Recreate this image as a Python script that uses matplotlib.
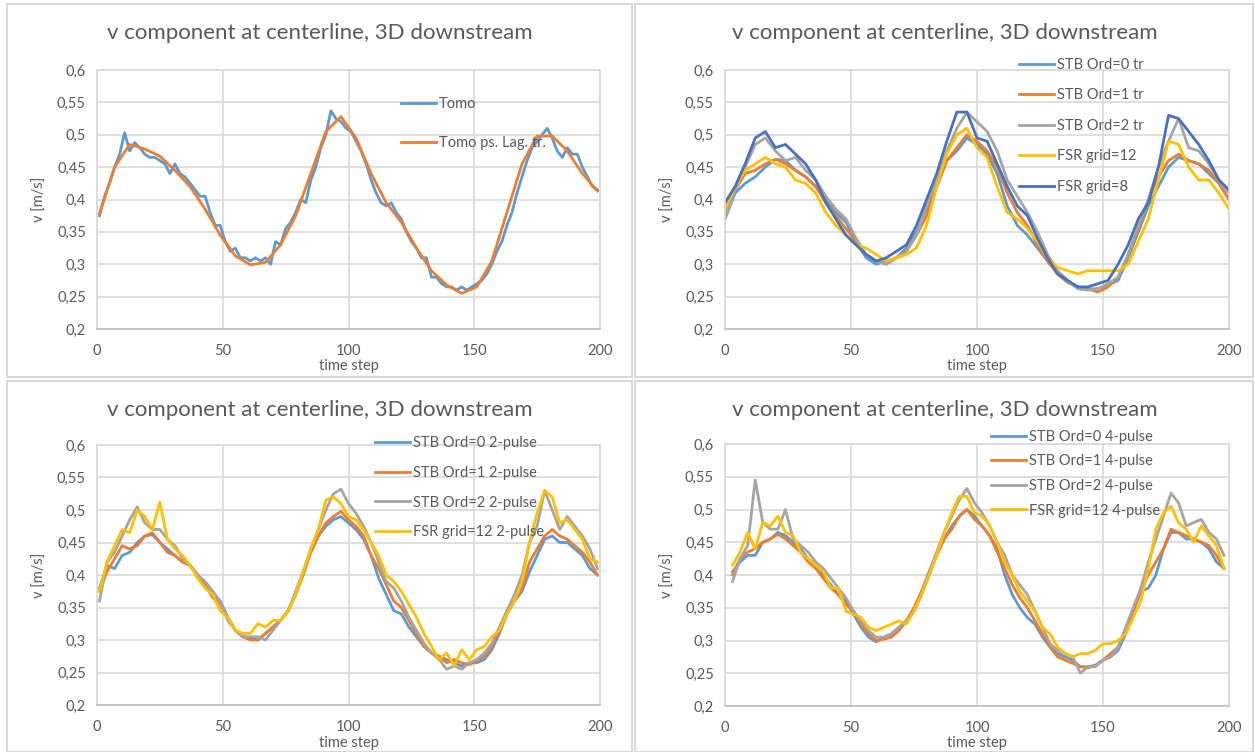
import numpy as np
import matplotlib
matplotlib.use("Agg")
import matplotlib.pyplot as plt
from matplotlib.patches import Rectangle
from matplotlib.ticker import FuncFormatter, MultipleLocator

plt.rcParams['font.family'] = ['Lato', 'DejaVu Sans']

TITLE = "v component at centerline, 3D downstream"

# ---- panel 1 ----
x_tomo = np.arange(1, 200, 2)
tomo = [0.375, 0.405, 0.425, 0.45, 0.47, 0.503, 0.475, 0.488, 0.48, 0.47,
        0.465, 0.465, 0.46, 0.455, 0.44, 0.455, 0.44, 0.435, 0.425, 0.415,
        0.405, 0.405, 0.38, 0.36, 0.36, 0.335, 0.32, 0.325, 0.31, 0.31,
        0.305, 0.31, 0.305, 0.31, 0.30, 0.335, 0.33, 0.355, 0.365, 0.38,
        0.40, 0.395, 0.43, 0.45, 0.48, 0.50, 0.537, 0.525, 0.52, 0.51,
        0.505, 0.49, 0.475, 0.455, 0.43, 0.41, 0.395, 0.39, 0.395, 0.38,
        0.37, 0.35, 0.335, 0.325, 0.31, 0.31, 0.28, 0.28, 0.27, 0.265,
        0.265, 0.26, 0.265, 0.26, 0.265, 0.27, 0.275, 0.285, 0.30, 0.32,
        0.335, 0.36, 0.38, 0.41, 0.435, 0.46, 0.48, 0.49, 0.50, 0.51,
        0.495, 0.475, 0.465, 0.48, 0.47, 0.47, 0.45, 0.435, 0.42, 0.415]
x_lag = np.arange(1, 200, 6)
tomo_lag = [0.378, 0.45, 0.485, 0.478, 0.467, 0.445, 0.42, 0.385, 0.345, 0.313,
            0.299, 0.303, 0.33, 0.375, 0.44, 0.505, 0.528, 0.495, 0.44, 0.395,
            0.365, 0.325, 0.29, 0.268, 0.255, 0.265, 0.305, 0.38, 0.455, 0.498,
            0.498, 0.475, 0.44, 0.413]

# ---- panel 2 ----
x_p2 = np.arange(0, 201, 4)
stb0_tr = [0.37, 0.41, 0.425, 0.435, 0.45, 0.462, 0.46, 0.445, 0.435, 0.42,
           0.40, 0.38, 0.365, 0.335, 0.31, 0.30, 0.305, 0.31, 0.325, 0.35,
           0.385, 0.42, 0.46, 0.475, 0.495, 0.485, 0.47, 0.44, 0.39, 0.36,
           0.345, 0.325, 0.305, 0.285, 0.272, 0.265, 0.262, 0.262, 0.268, 0.275,
           0.31, 0.35, 0.39, 0.42, 0.45, 0.465, 0.46, 0.455, 0.44, 0.425, 0.40]
stb1_tr = [0.375, 0.415, 0.44, 0.445, 0.455, 0.462, 0.455, 0.445, 0.435, 0.42,
           0.395, 0.375, 0.355, 0.335, 0.315, 0.305, 0.30, 0.31, 0.32, 0.345,
           0.375, 0.42, 0.46, 0.48, 0.50, 0.49, 0.475, 0.45, 0.41, 0.38,
           0.36, 0.33, 0.305, 0.285, 0.272, 0.265, 0.262, 0.257, 0.265, 0.28,
           0.315, 0.355, 0.40, 0.435, 0.46, 0.47, 0.46, 0.455, 0.445, 0.425, 0.40]
stb2_tr = [0.37, 0.415, 0.45, 0.485, 0.495, 0.475, 0.46, 0.465, 0.445, 0.43,
           0.405, 0.385, 0.37, 0.34, 0.315, 0.305, 0.30, 0.31, 0.32, 0.345,
           0.39, 0.43, 0.475, 0.51, 0.535, 0.52, 0.505, 0.475, 0.43, 0.405,
           0.38, 0.35, 0.315, 0.29, 0.275, 0.262, 0.26, 0.262, 0.27, 0.28,
           0.315, 0.36, 0.40, 0.45, 0.49, 0.525, 0.48, 0.475, 0.455, 0.43, 0.41]
fsr12_tr = [0.385, 0.42, 0.445, 0.455, 0.465, 0.455, 0.45, 0.43, 0.425, 0.41,
            0.38, 0.36, 0.345, 0.33, 0.325, 0.315, 0.305, 0.31, 0.315, 0.325,
            0.36, 0.42, 0.47, 0.50, 0.51, 0.48, 0.465, 0.42, 0.38, 0.37,
            0.355, 0.335, 0.31, 0.295, 0.29, 0.285, 0.29, 0.29, 0.29, 0.29,
            0.30, 0.335, 0.37, 0.43, 0.49, 0.485, 0.45, 0.43, 0.43, 0.41, 0.385]
fsr8_tr = [0.395, 0.42, 0.455, 0.495, 0.505, 0.48, 0.485, 0.47, 0.455, 0.43,
           0.395, 0.37, 0.345, 0.33, 0.315, 0.305, 0.31, 0.32, 0.33, 0.36,
           0.40, 0.44, 0.49, 0.535, 0.535, 0.495, 0.49, 0.455, 0.42, 0.39,
           0.375, 0.34, 0.31, 0.285, 0.275, 0.265, 0.265, 0.27, 0.275, 0.30,
           0.33, 0.37, 0.395, 0.45, 0.53, 0.525, 0.505, 0.485, 0.46, 0.43, 0.415]

# ---- panel 3 ----
x_p3 = np.arange(1, 200, 3)
stb0_2p = [0.38, 0.415, 0.41, 0.43, 0.435, 0.45, 0.46, 0.462, 0.45, 0.44,
           0.43, 0.42, 0.415, 0.40, 0.385, 0.37, 0.36, 0.335, 0.315, 0.305,
           0.303, 0.30, 0.31, 0.32, 0.33, 0.345, 0.37, 0.405, 0.435, 0.46,
           0.475, 0.485, 0.49, 0.48, 0.47, 0.455, 0.43, 0.395, 0.37, 0.345,
           0.34, 0.32, 0.305, 0.29, 0.28, 0.275, 0.27, 0.265, 0.26, 0.265,
           0.265, 0.27, 0.285, 0.31, 0.34, 0.36, 0.375, 0.405, 0.43, 0.455,
           0.46, 0.45, 0.45, 0.44, 0.43, 0.41, 0.40]
stb1_2p = [0.375, 0.405, 0.425, 0.445, 0.44, 0.445, 0.46, 0.465, 0.45, 0.435,
           0.43, 0.42, 0.415, 0.40, 0.385, 0.365, 0.355, 0.335, 0.315, 0.305,
           0.30, 0.30, 0.31, 0.32, 0.33, 0.345, 0.37, 0.40, 0.435, 0.46,
           0.48, 0.49, 0.498, 0.485, 0.475, 0.46, 0.43, 0.41, 0.385, 0.36,
           0.35, 0.33, 0.31, 0.29, 0.28, 0.275, 0.265, 0.27, 0.265, 0.262,
           0.268, 0.275, 0.29, 0.315, 0.34, 0.36, 0.38, 0.42, 0.44, 0.46,
           0.47, 0.46, 0.455, 0.445, 0.435, 0.42, 0.40]
stb2_2p = [0.36, 0.42, 0.435, 0.46, 0.485, 0.505, 0.48, 0.47, 0.47, 0.455,
           0.445, 0.425, 0.415, 0.40, 0.39, 0.375, 0.36, 0.33, 0.315, 0.305,
           0.305, 0.305, 0.30, 0.315, 0.33, 0.345, 0.375, 0.405, 0.44, 0.47,
           0.50, 0.525, 0.532, 0.51, 0.495, 0.475, 0.45, 0.42, 0.39, 0.38,
           0.36, 0.335, 0.315, 0.295, 0.28, 0.27, 0.255, 0.26, 0.255, 0.265,
           0.27, 0.28, 0.295, 0.32, 0.345, 0.37, 0.40, 0.45, 0.475, 0.53,
           0.50, 0.47, 0.49, 0.475, 0.46, 0.44, 0.41]
fsr12_2p = [0.375, 0.42, 0.445, 0.47, 0.465, 0.50, 0.49, 0.47, 0.512, 0.455,
            0.44, 0.43, 0.415, 0.395, 0.38, 0.37, 0.345, 0.335, 0.315, 0.31,
            0.31, 0.325, 0.32, 0.33, 0.33, 0.345, 0.37, 0.405, 0.44, 0.47,
            0.515, 0.52, 0.51, 0.49, 0.485, 0.47, 0.45, 0.43, 0.40, 0.39,
            0.375, 0.355, 0.335, 0.31, 0.29, 0.27, 0.28, 0.26, 0.285, 0.27,
            0.285, 0.29, 0.305, 0.315, 0.34, 0.36, 0.39, 0.45, 0.495, 0.53,
            0.52, 0.48, 0.485, 0.47, 0.455, 0.425, 0.42]

# ---- panel 4 ----
x_p4 = np.arange(3, 199, 3)
stb0_4p = [0.405, 0.42, 0.43, 0.43, 0.45, 0.455, 0.465, 0.46, 0.45, 0.44,
           0.425, 0.415, 0.40, 0.385, 0.37, 0.36, 0.34, 0.32, 0.305, 0.298,
           0.305, 0.31, 0.32, 0.33, 0.345, 0.37, 0.40, 0.43, 0.455, 0.475,
           0.49, 0.50, 0.49, 0.475, 0.46, 0.44, 0.40, 0.37, 0.35, 0.335,
           0.325, 0.305, 0.29, 0.28, 0.275, 0.27, 0.26, 0.26, 0.262, 0.27,
           0.275, 0.285, 0.31, 0.345, 0.375, 0.38, 0.40, 0.44, 0.465, 0.465,
           0.455, 0.455, 0.45, 0.44, 0.42, 0.41]
stb1_4p = [0.40, 0.425, 0.435, 0.44, 0.45, 0.455, 0.462, 0.455, 0.445, 0.435,
           0.42, 0.41, 0.395, 0.38, 0.37, 0.355, 0.345, 0.325, 0.31, 0.30,
           0.302, 0.305, 0.315, 0.33, 0.35, 0.375, 0.405, 0.43, 0.455, 0.47,
           0.49, 0.50, 0.485, 0.475, 0.46, 0.435, 0.41, 0.385, 0.365, 0.35,
           0.33, 0.31, 0.29, 0.275, 0.27, 0.265, 0.26, 0.258, 0.262, 0.27,
           0.28, 0.29, 0.315, 0.345, 0.375, 0.40, 0.42, 0.44, 0.47, 0.465,
           0.46, 0.455, 0.45, 0.445, 0.43, 0.41]
stb2_4p = [0.39, 0.425, 0.445, 0.545, 0.48, 0.47, 0.47, 0.50, 0.455, 0.445,
           0.435, 0.42, 0.41, 0.395, 0.38, 0.365, 0.345, 0.33, 0.315, 0.305,
           0.305, 0.31, 0.32, 0.33, 0.345, 0.37, 0.405, 0.435, 0.465, 0.49,
           0.515, 0.532, 0.51, 0.495, 0.475, 0.45, 0.43, 0.40, 0.385, 0.37,
           0.345, 0.32, 0.295, 0.285, 0.28, 0.275, 0.25, 0.26, 0.26, 0.27,
           0.275, 0.29, 0.32, 0.35, 0.38, 0.42, 0.455, 0.49, 0.525, 0.51,
           0.475, 0.48, 0.485, 0.465, 0.455, 0.43]
fsr12_4p = [0.415, 0.435, 0.465, 0.44, 0.48, 0.475, 0.49, 0.465, 0.46, 0.435,
            0.425, 0.415, 0.405, 0.38, 0.38, 0.345, 0.34, 0.335, 0.32, 0.315,
            0.32, 0.325, 0.33, 0.325, 0.345, 0.37, 0.40, 0.43, 0.465, 0.495,
            0.52, 0.52, 0.495, 0.49, 0.475, 0.45, 0.42, 0.40, 0.375, 0.36,
            0.345, 0.32, 0.31, 0.29, 0.28, 0.275, 0.28, 0.28, 0.285, 0.295,
            0.295, 0.30, 0.31, 0.335, 0.36, 0.41, 0.47, 0.495, 0.505, 0.48,
            0.47, 0.45, 0.475, 0.46, 0.445, 0.41]

c_blue = '#5B9BD5'
c_orange = '#ED7D31'
c_gray = '#A5A5A5'
c_yellow = '#FFC000'
c_dblue = '#4472C4'
txt = '#595959'

# pixel boxes (left, top, right, bottom) of each Excel chart
panels = [
    dict(rect=(97, 70, 600, 329), frame=(7, 4, 632, 377), title=(320, 33), xlab_y=366,
         ylab_x=40,
         series=[(x_tomo, tomo, c_blue, 'Tomo'),
                 (x_lag, tomo_lag, c_orange, 'Tomo ps. Lag. tr.')],
         leg=(401, 97), spacing=1.7),
    dict(rect=(725, 70, 1229, 329), frame=(635, 4, 1253, 377), title=(945, 33), xlab_y=366,
         ylab_x=668,
         series=[(x_p2, stb0_tr, c_blue, 'STB Ord=0 tr'),
                 (x_p2, stb1_tr, c_orange, 'STB Ord=1 tr'),
                 (x_p2, stb2_tr, c_gray, 'STB Ord=2 tr'),
                 (x_p2, fsr12_tr, c_yellow, 'FSR grid=12'),
                 (x_p2, fsr8_tr, c_dblue, 'FSR grid=8')],
         leg=(1019, 58), spacing=1.13),
    dict(rect=(97, 445, 600, 705), frame=(7, 381, 632, 752), title=(320, 410), xlab_y=743,
         ylab_x=40,
         series=[(x_p3, stb0_2p, c_blue, 'STB Ord=0 2-pulse'),
                 (x_p3, stb1_2p, c_orange, 'STB Ord=1 2-pulse'),
                 (x_p3, stb2_2p, c_gray, 'STB Ord=2 2-pulse'),
                 (x_p3, fsr12_2p, c_yellow, 'FSR grid=12 2-pulse')],
         leg=(375, 436), spacing=1.08),
    dict(rect=(725, 444, 1229, 706), frame=(635, 381, 1253, 752), title=(945, 410), xlab_y=743,
         ylab_x=668,
         series=[(x_p4, stb0_4p, c_blue, 'STB Ord=0 4-pulse'),
                 (x_p4, stb1_4p, c_orange, 'STB Ord=1 4-pulse'),
                 (x_p4, stb2_4p, c_gray, 'STB Ord=2 4-pulse'),
                 (x_p4, fsr12_4p, c_yellow, 'FSR grid=12 4-pulse')],
         leg=(991, 430), spacing=0.72),
]

W, H = 1255, 752
fig = plt.figure(figsize=(W / 100, H / 100), dpi=100)
fig.patch.set_facecolor('white')

comma = FuncFormatter(lambda v, p: ('%g' % round(v, 2)).replace('.', ','))

for p in panels:
    x0, y0, x1, y1 = p['frame']
    fig.add_artist(Rectangle((x0 / W, 1 - y1 / H), (x1 - x0) / W, (y1 - y0) / H,
                             transform=fig.transFigure, fill=False,
                             edgecolor='#D9D9D9', lw=1.5))
    l, t, r, b = p['rect']
    ax = fig.add_axes([l / W, 1 - b / H, (r - l) / W, (b - t) / H])
    for xs, ys, col, lab in p['series']:
        ax.plot(xs, ys, color=col, lw=2.0, label=lab, solid_joinstyle='round')
    ax.set_xlim(0, 200)
    ax.set_ylim(0.2, 0.6)
    ax.xaxis.set_major_locator(MultipleLocator(50))
    ax.yaxis.set_major_locator(MultipleLocator(0.05))
    ax.yaxis.set_major_formatter(comma)
    ax.grid(True, color='#D9D9D9', lw=1.2)
    ax.set_axisbelow(True)
    for s in ax.spines.values():
        s.set_color('#D9D9D9')
        s.set_linewidth(1.2)
    ax.spines['bottom'].set_color('#BFBFBF')
    ax.tick_params(length=0, labelsize=10.5, labelcolor=txt)
    ax.tick_params(axis='x', pad=11)
    ax.tick_params(axis='y', pad=8)
    tx, ty = p['title']
    fig.text(tx / W, 1 - ty / H, TITLE, ha='center', va='center',
             fontsize=16, color=txt)
    fig.text((l + r) / 2 / W, 1 - p['xlab_y'] / H, 'time step', ha='center', va='center',
             fontsize=10.5, color=txt)
    fig.text(p['ylab_x'] / W, 1 - (t + b) / 2 / H, 'v [m/s]', ha='center', va='center',
             rotation=90, fontsize=10.5, color=txt)
    lx, ly = p['leg']
    ax.legend(loc='upper left', bbox_to_anchor=(lx / W, 1 - ly / H),
              bbox_transform=fig.transFigure, frameon=False, fontsize=10.5,
              labelcolor=txt, handlelength=2.4, handletextpad=0.2,
              labelspacing=p['spacing'], borderpad=0, borderaxespad=0)

fig.savefig('out.png', dpi=100, facecolor='white')
